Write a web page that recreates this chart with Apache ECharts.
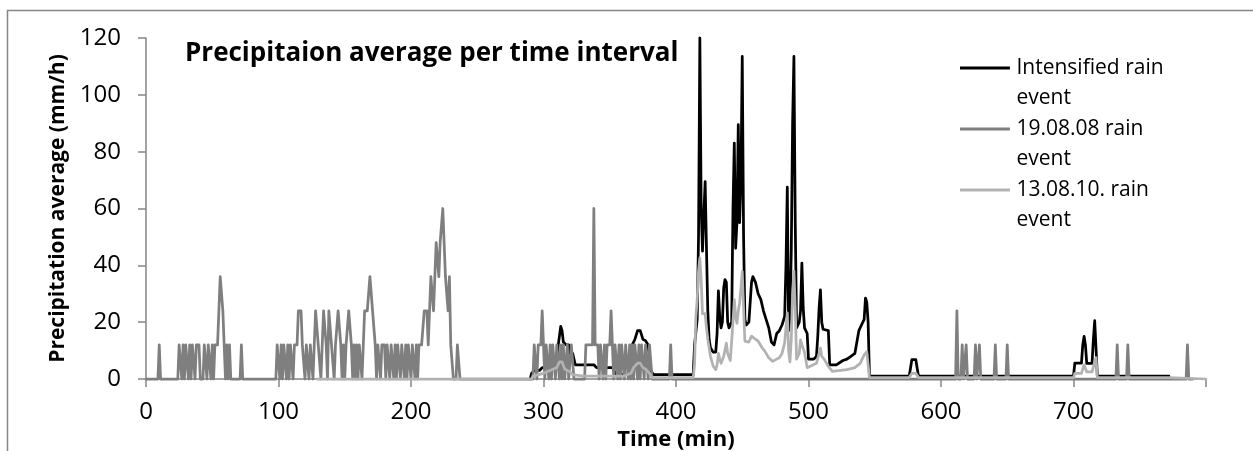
<!DOCTYPE html>
<html>
<head>
<meta charset="utf-8">
<title>Precipitation average per time interval</title>
<script src="https://cdn.jsdelivr.net/npm/echarts@6/dist/echarts.min.js"></script>
<style>
  html, body { margin: 0; padding: 0; background: #fff; }
  #chart { width: 1253px; height: 451px; }
</style>
</head>
<body>
<div id="chart"></div>
<script>
'use strict';

// series names, as in the legend
const seriesNames = ['Intensified rain event', '19.08.08 rain event', '13.08.10. rain event'];

// x ticks (minutes) and y ticks (mm/h)
const timeTicks = [0, 100, 200, 300, 400, 500, 600, 700, 800];
const rainTicks = [0, 20, 40, 60, 80, 100, 120];

// [time (min), precipitation (mm/h)]
const intensified = [
    [290, 0], [291, 2], [293, 3], [297, 3], [299, 4], [302, 4], [305, 5], [308, 6], [310, 8], [312, 15],
    [313, 18.5], [314, 17], [315, 13], [317, 12], [319, 12], [320, 9], [322, 9], [324, 5], [326, 5], [338, 5],
    [340, 4], [352, 4], [355, 1.5], [364, 1.5], [365, 8], [367, 12], [369, 14], [371, 17], [373, 17], [375, 14],
    [377, 13.5], [379, 12], [381, 3], [383, 1.5], [413, 1.5], [414, 12], [416, 21], [417, 50], [418, 120], [419, 60],
    [420, 45], [421, 58], [422, 69.5], [423, 46], [424, 24], [425, 14], [426, 11], [428, 9.5], [430, 9.5], [431, 16],
    [432, 31], [433, 22], [434, 18], [435, 20], [436, 32], [437, 35], [438, 34], [439, 20], [440, 18], [442, 20],
    [443, 60], [444, 83], [445, 46], [446, 55], [447, 89.5], [448, 55], [449, 70], [450, 113.5], [451, 50], [452, 21],
    [453, 19], [455, 20], [457, 34], [458, 36], [460, 34], [462, 30], [464, 28], [466, 24], [468, 21], [470, 18],
    [472, 13], [474, 12], [476, 16], [478, 17], [480, 19], [482, 22], [483, 40], [484, 67.5], [485, 17], [486, 22],
    [487, 45], [488, 90], [489, 113.5], [490, 55], [491, 18], [493, 20], [494, 24], [495, 40.8], [496, 25], [497, 18],
    [499, 16], [500, 7], [504, 7], [506, 8], [507, 15], [508, 25], [509, 31.4], [510, 20], [511, 17.5], [515, 17],
    [516, 5], [521, 5], [526, 6.5], [529, 7], [532, 8], [535, 9], [538, 17], [540, 19], [542, 21], [543, 28.5],
    [544, 27], [545, 20], [546, 1], [576, 1], [578, 6.8], [581, 6.8], [583, 1], [700, 1], [701, 5.6], [706, 5.6],
    [707, 12], [708, 15], [709, 12], [710, 5.5], [714, 5.5], [715, 14], [716, 20.5], [717, 20], [718, 1], [772, 1]
];

const rain190808 = [
    [0, 0], [9, 0], [10, 12], [11, 0],
    [24, 0], [25, 12], [26, 12], [27, 0], [28, 12], [29, 0], [30, 12], [31, 12], [32, 0], [33, 12], [34, 0],
    [35, 12], [36, 12], [37, 0], [38, 12], [39, 12], [40, 12], [41, 0],
    [43, 0], [44, 12], [45, 12], [46, 0], [47, 12], [48, 12], [49, 0], [50, 12], [51, 0], [52, 12], [53, 12],
    [54, 12], [55, 24], [56, 36], [57, 36], [58, 24], [59, 12], [60, 0], [61, 12], [62, 0], [63, 12], [64, 0],
    [71, 0], [72, 12], [73, 0],
    [98, 0], [99, 12], [100, 12], [101, 0], [102, 12], [103, 0], [104, 12], [105, 12], [106, 0], [107, 12],
    [108, 0], [109, 12], [110, 12], [111, 0], [112, 12], [113, 12], [114, 12], [115, 24], [116, 24], [117, 24],
    [118, 12], [119, 12], [120, 0], [121, 12], [122, 12], [123, 0], [124, 12], [125, 12], [126, 0], [127, 12],
    [128, 24], [129, 24], [130, 12], [131, 12], [132, 0], [133, 12], [134, 24], [135, 24], [136, 12], [137, 0],
    [138, 24], [139, 24], [140, 12], [141, 12], [142, 0], [143, 12], [144, 12], [145, 24], [146, 24], [147, 12],
    [148, 0], [149, 12], [150, 0], [151, 12], [152, 12], [153, 24], [154, 24], [155, 12], [156, 0], [157, 12],
    [158, 0], [159, 12], [160, 0], [161, 12], [162, 12], [163, 0], [164, 12], [165, 24], [166, 24], [167, 24],
    [168, 24], [169, 36], [170, 36], [171, 24], [172, 24], [173, 12], [174, 0], [175, 12], [176, 12], [177, 0],
    [178, 12], [179, 12], [180, 12], [181, 0], [182, 12], [183, 12], [184, 0], [185, 12], [186, 12], [187, 0],
    [188, 12], [189, 0], [190, 12], [191, 12], [192, 0], [193, 12], [194, 12], [195, 0], [196, 12], [197, 0],
    [198, 12], [199, 12], [200, 0], [201, 12], [202, 12], [203, 0], [204, 12], [205, 0], [206, 12], [207, 12],
    [208, 12], [209, 12], [210, 24], [211, 24], [212, 24], [213, 12], [214, 24], [215, 36], [216, 36], [217, 24],
    [218, 36], [219, 48], [220, 48], [221, 36], [222, 48], [223, 48], [224, 60], [225, 48], [226, 36], [227, 36],
    [228, 24], [229, 36], [230, 12], [231, 12], [232, 0], [234, 0], [235, 12], [236, 12], [237, 0],
    [292, 0], [293, 12], [294, 12], [295, 0], [296, 12], [297, 12], [298, 12], [299, 24], [300, 12], [301, 0],
    [302, 12], [303, 12], [304, 0], [305, 12], [306, 0], [307, 12], [308, 12], [309, 0], [310, 12], [311, 12],
    [312, 0], [313, 12], [314, 0], [315, 12], [316, 0], [318, 12], [319, 0], [321, 12], [322, 12], [323, 0],
    [331, 0], [332, 12], [337, 12], [338, 60], [339, 12], [341, 12], [342, 0], [343, 12], [344, 12], [345, 0],
    [346, 12], [347, 0], [348, 12], [350, 12], [351, 24], [352, 12], [353, 0], [354, 12], [355, 12], [356, 0],
    [357, 12], [358, 0], [359, 12], [360, 12], [361, 0], [362, 12], [363, 12], [364, 0], [365, 12], [366, 0],
    [367, 12], [368, 0], [369, 12], [370, 12], [371, 0], [372, 12], [373, 0], [374, 12], [375, 12], [376, 0],
    [377, 12], [378, 12], [379, 0], [380, 12], [381, 12], [382, 0],
    [395, 0], [396, 12], [397, 0],
    [611, 0], [612, 24], [613, 0], [615, 0], [616, 12], [617, 0], [618, 0], [619, 12], [620, 0], [625, 0],
    [626, 12], [627, 0], [628, 0], [629, 12], [630, 0], [640, 0], [641, 12], [642, 0], [649, 0], [650, 12],
    [651, 0], [732, 0], [733, 12], [734, 0], [740, 0], [741, 12], [742, 0], [785, 0], [786, 12], [787, 0], [790, 0]
];

const rain130810 = [
    [129, 0], [291, 0], [292, 1], [300, 2], [305, 3], [310, 4], [312, 6], [314, 6], [316, 3.5], [318, 3],
    [320, 2.5], [322, 1.5], [330, 1], [360, 1], [366, 2], [368, 4], [371, 5.6], [373, 5.6], [375, 4], [377, 3.5],
    [380, 2], [382, 0.5], [413, 0.5], [414, 5], [415, 22], [416, 28], [417, 38], [418, 42.6], [419, 35], [420, 23],
    [422, 23], [423, 18], [424, 14], [426, 8], [428, 4.5], [430, 3.3], [431, 5], [432, 9], [433, 7], [434, 5.5],
    [436, 8], [438, 12.6], [439, 9], [441, 6.5], [443, 20], [444, 27.9], [445, 22], [446, 19.6], [447, 24], [448, 26.7],
    [449, 32], [450, 37.9], [451, 25], [452, 13.3], [455, 13], [457, 15.1], [460, 14], [462, 13.3], [465, 11], [467, 9.8],
    [470, 7.5], [473, 6.2], [476, 7], [478, 7.5], [480, 9], [482, 12.7], [484, 23.3], [485, 10], [486, 6], [487, 14],
    [488, 30], [489, 38], [490, 25], [491, 7], [493, 9], [494, 13.8], [495, 12], [497, 9.4], [499, 4], [500, 3.3],
    [506, 5.5], [508, 9], [509, 10.9], [510, 8], [512, 6.8], [515, 4.4], [518, 2.7], [529, 3.3], [535, 4], [539, 5.5],
    [542, 8.5], [544, 9.6], [545, 9], [546, 0.5], [576, 0.5], [578, 2], [581, 2], [583, 0.5], [700, 0.5], [701, 2],
    [706, 2], [708, 5], [710, 2.5], [714, 2.5], [716, 6], [717, 7.5], [718, 0.5], [772, 0.5], [800, 0]
];

const seriesData = [intensified, rain190808, rain130810];
const seriesColors = ['#000000', '#7f7f7f', '#b2b2b2'];

const FONT = '"Open Sans"';
const AXIS_GREY = '#868686';

// legend line drawn at the top of a two-line label (Excel style)
const LEGEND_ICON = 'path://M0,0L50,0L50,3L0,3Z M0,33L0.05,33L0.05,33.05Z';

const chart = echarts.init(document.getElementById('chart'), null, { renderer: 'canvas' });

chart.setOption({
    animation: false,
    backgroundColor: '#ffffff',
    textStyle: { fontFamily: FONT },
    title: {
        text: 'Precipitaion average per time interval',
        left: 185,
        top: 41,
        padding: 0,
        textStyle: { fontFamily: FONT, fontWeight: 'bold', fontSize: 26, color: '#000' }
    },
    legend: {
        data: seriesNames,
        orient: 'vertical',
        left: 960,
        top: 53,
        padding: 0,
        itemGap: 1,
        itemWidth: 53,
        itemHeight: 33,
        icon: LEGEND_ICON,
        selectedMode: false,
        itemStyle: { borderWidth: 0 },
        formatter: function(name) {
            return name.replace(' event', '\nevent');
        },
        textStyle: { fontFamily: FONT, fontSize: 21, lineHeight: 30, color: '#000' }
    },
    graphic: [{
        type: 'rect',
        shape: { x: 7.5, y: 10.5, width: 1300, height: 500 },
        style: { fill: 'none', stroke: AXIS_GREY, lineWidth: 1.5 },
        silent: true
    }],
    // keep the plot where Excel put it, labels may sit near the edge
    grid: { left: 146, right: 47, top: 38, bottom: 72, containLabel: false, outerBoundsMode: 'none' },
    xAxis: {
        type: 'value',
        min: timeTicks[0],
        max: timeTicks[timeTicks.length - 1],
        interval: 100,
        name: 'Time (min)',
        nameLocation: 'middle',
        nameGap: 37,
        nameTextStyle: { fontFamily: FONT, fontWeight: 'bold', fontSize: 22, color: '#000' },
        axisLine: { lineStyle: { color: AXIS_GREY, width: 1.5 } },
        axisTick: { show: true, length: 8, lineStyle: { color: AXIS_GREY, width: 1.5 } },
        axisLabel: {
            fontFamily: FONT, fontSize: 24, color: '#000', margin: 21,
            formatter: function(v) { return v === 800 ? '' : String(v); }
        },
        splitLine: { show: false }
    },
    yAxis: {
        type: 'value',
        min: rainTicks[0],
        max: rainTicks[rainTicks.length - 1],
        interval: 20,
        name: 'Precipitation average (mm/h)',
        nameLocation: 'middle',
        nameGap: 73,
        nameTextStyle: { fontFamily: FONT, fontWeight: 'bold', fontSize: 21, color: '#000' },
        axisLine: { show: true, lineStyle: { color: AXIS_GREY, width: 1.5 } },
        axisTick: { show: true, length: 8, lineStyle: { color: AXIS_GREY, width: 1.5 } },
        axisLabel: { fontFamily: FONT, fontSize: 24, color: '#000', margin: 25 },
        splitLine: { show: false }
    },
    series: seriesNames.map(function(name, i) {
        return {
            name: name,
            type: 'line',
            data: seriesData[i],
            symbol: 'none',
            color: seriesColors[i],
            lineStyle: { color: seriesColors[i], width: 2.75, join: 'round', cap: 'round' },
            clip: false,
            z: 2 + i
        };
    })
});
</script>
</body>
</html>
